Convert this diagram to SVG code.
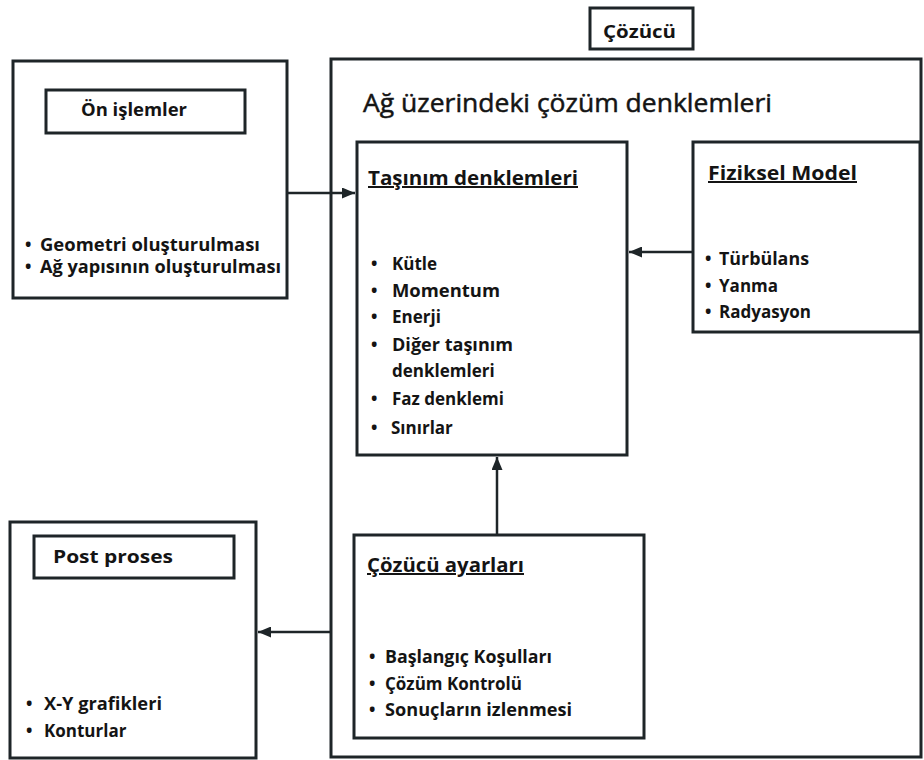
<svg xmlns="http://www.w3.org/2000/svg" width="924" height="760" viewBox="0 0 924 760">
<defs>
<style>
.box{fill:none;stroke:#1e2528;stroke-width:3}
.con{fill:none;stroke:#1e2528;stroke-width:2.5}
text{font-family:"Open Sans","Liberation Sans",sans-serif;fill:#141414}
.b{font-weight:bold;font-size:17px}
.t{font-weight:bold;font-size:20px;text-decoration:underline}
.h{font-weight:bold;font-size:18px}
.big{font-size:26px;stroke:#141414;stroke-width:0.5}
</style>
<marker id="ah" viewBox="0 0 13 11" refX="13" refY="5.5" markerWidth="13" markerHeight="11" markerUnits="userSpaceOnUse" orient="auto">
<path d="M0,0 L13,5.5 L0,11 z" fill="#1e2528"/>
</marker>
</defs>
<rect width="924" height="760" fill="#ffffff"/>

<g id="connectors">
<line class="con" x1="287" y1="193" x2="355" y2="193" marker-end="url(#ah)"/>
<line class="con" x1="693" y1="252" x2="629" y2="252" marker-end="url(#ah)"/>
<line class="con" x1="497" y1="535" x2="497" y2="457" marker-end="url(#ah)"/>
<line class="con" x1="331" y1="632" x2="258" y2="632" marker-end="url(#ah)"/>
</g>

<g id="cozucu-label">
<rect class="box" x="590" y="8" width="103" height="41"/>
<text class="h" x="603" y="38" textLength="73" lengthAdjust="spacingAndGlyphs">Çözücü</text>
</g>

<g id="cozucu">
<rect class="box" x="331" y="59" width="590" height="698"/>
<text class="big" x="363" y="112" textLength="409" lengthAdjust="spacingAndGlyphs">Ağ üzerindeki çözüm denklemleri</text>
</g>

<g id="on-islemler">
<rect class="box" x="13" y="61" width="274" height="237"/>
<rect class="box" x="46" y="90" width="199" height="43"/>
<text class="h" x="81" y="116" textLength="106" lengthAdjust="spacingAndGlyphs">Ön işlemler</text>
<text class="b" x="25" y="251">•</text>
<text class="b" x="40" y="251" textLength="220" lengthAdjust="spacingAndGlyphs">Geometri oluşturulması</text>
<text class="b" x="25" y="273">•</text>
<text class="b" x="40" y="273" textLength="241" lengthAdjust="spacingAndGlyphs">Ağ yapısının oluşturulması</text>
</g>

<g id="tasinim">
<rect class="box" x="357" y="142" width="270" height="313"/>
<text class="t" x="368" y="185" textLength="210" lengthAdjust="spacingAndGlyphs">Taşınım denklemleri</text>
<text class="b" x="371" y="270">•</text>
<text class="b" x="392" y="270">Kütle</text>
<text class="b" x="371" y="297">•</text>
<text class="b" x="392" y="297" textLength="108" lengthAdjust="spacingAndGlyphs">Momentum</text>
<text class="b" x="371" y="323">•</text>
<text class="b" x="392" y="323">Enerji</text>
<text class="b" x="371" y="351">•</text>
<text class="b" x="392" y="351" textLength="121" lengthAdjust="spacingAndGlyphs">Diğer taşınım</text>
<text class="b" x="392" y="377">denklemleri</text>
<text class="b" x="371" y="405">•</text>
<text class="b" x="392" y="405">Faz denklemi</text>
<text class="b" x="371" y="434">•</text>
<text class="b" x="391" y="434">Sınırlar</text>
</g>

<g id="fiziksel-model">
<rect class="box" x="693" y="142" width="227" height="190"/>
<text class="t" x="708" y="180" textLength="149" lengthAdjust="spacingAndGlyphs">Fiziksel Model</text>
<text class="b" x="705" y="265">•</text>
<text class="b" x="719" y="265" textLength="90" lengthAdjust="spacingAndGlyphs">Türbülans</text>
<text class="b" x="705" y="292">•</text>
<text class="b" x="719" y="292">Yanma</text>
<text class="b" x="705" y="318">•</text>
<text class="b" x="719" y="318">Radyasyon</text>
</g>

<g id="cozucu-ayarlari">
<rect class="box" x="354" y="535" width="290" height="203"/>
<text class="t" x="367" y="572" textLength="157" lengthAdjust="spacingAndGlyphs">Çözücü ayarları</text>
<text class="b" x="369" y="663">•</text>
<text class="b" x="385" y="663" textLength="167" lengthAdjust="spacingAndGlyphs">Başlangıç Koşulları</text>
<text class="b" x="369" y="690">•</text>
<text class="b" x="385" y="690">Çözüm Kontrolü</text>
<text class="b" x="369" y="716">•</text>
<text class="b" x="385" y="716" textLength="187" lengthAdjust="spacingAndGlyphs">Sonuçların izlenmesi</text>
</g>

<g id="post-proses">
<rect class="box" x="10" y="522" width="246" height="236"/>
<rect class="box" x="34" y="536" width="200" height="42"/>
<text class="h" x="53" y="563" textLength="120" lengthAdjust="spacingAndGlyphs">Post proses</text>
<text class="b" x="26" y="710">•</text>
<text class="b" x="44" y="710" textLength="118" lengthAdjust="spacingAndGlyphs">X-Y grafikleri</text>
<text class="b" x="26" y="737">•</text>
<text class="b" x="44" y="737">Konturlar</text>
</g>
</svg>
